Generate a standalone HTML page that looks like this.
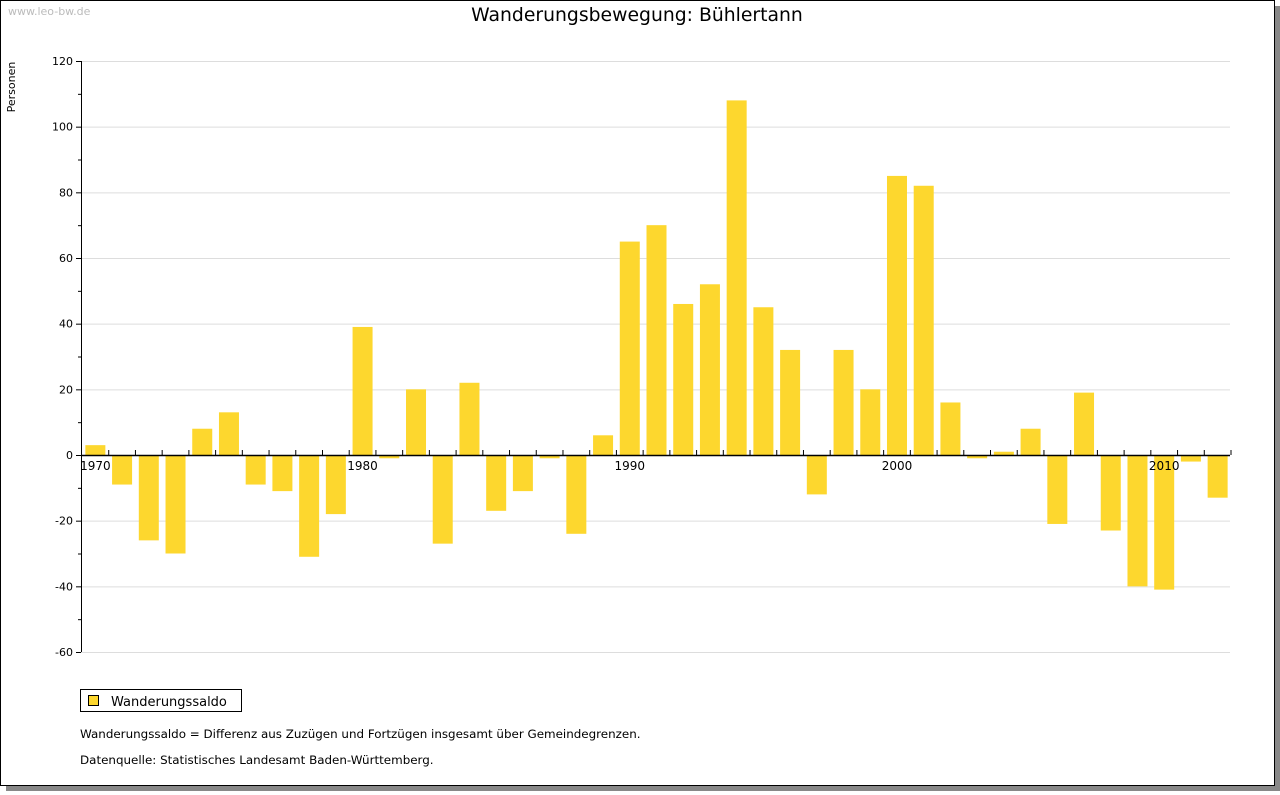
<!DOCTYPE html>
<html><head><meta charset="utf-8"><style>
body{margin:0;background:#fff;width:1280px;height:791px;overflow:hidden;font-family:"DejaVu Sans","Liberation Sans",sans-serif;}
</style></head><body>
<svg id="c" width="1280" height="791" xmlns="http://www.w3.org/2000/svg">
<rect x="6" y="6" width="1274" height="785" fill="#888"/>
<rect x="0.5" y="0.5" width="1274" height="785" fill="#fff" stroke="#000"/>
<text x="8" y="15" font-size="11" fill="#bbb">www.leo-bw.de</text>
<text x="637" y="21" font-size="18.8" text-anchor="middle" fill="#000">Wanderungsbewegung: Bühlertann</text>
<text transform="translate(15,87) rotate(-90)" font-size="11" text-anchor="middle">Personen</text>
<g id="grid"></g><g id="bars"></g><g id="axes"></g>
<rect x="80.5" y="689.5" width="161" height="22" fill="#fff" stroke="#000"/>
<rect x="88.5" y="695.5" width="10" height="10" fill="#fdd72e" stroke="#000"/>
<text x="111" y="706" font-size="13">Wanderungssaldo</text>
<text x="80" y="738" font-size="11.9">Wanderungssaldo = Differenz aus Zuzügen und Fortzügen insgesamt über Gemeindegrenzen.</text>
<text x="80" y="764" font-size="11.9">Datenquelle: Statistisches Landesamt Baden-Württemberg.</text>
</svg>
<script>
const startYear=1970;
const values=[3,-9,-26,-30,8,13,-9,-11,-31,-18,39,-1,20,-27,22,-17,-11,-1,-24,6,65,70,46,52,108,45,32,-12,32,20,85,82,16,-1,1,8,-21,19,-23,-40,-41,-2,-13];
const yTicks=[-60,-40,-20,0,20,40,60,80,100,120];
const xLabels=[1970,1980,1990,2000,2010];
const NS="http://www.w3.org/2000/svg";
const x0=81,x1=1230,step=(x1-x0)/values.length;
const y=v=>455-v*(394/120);
const xc=i=>x0+1+step*(i+0.5);
function mk(t,a,p){const e=document.createElementNS(NS,t);for(const k in a)e.setAttribute(k,a[k]);p.appendChild(e);return e;}
const g=document.getElementById('grid'),b=document.getElementById('bars'),ax=document.getElementById('axes');
yTicks.forEach(v=>{
 if(v!==0){const l=mk('line',{x1:x0,x2:x1,y1:y(v)+.5,y2:y(v)+.5,stroke:'#ddd'},g);
 
 }
 const t=mk('text',{x:73,y:y(v)+4,'font-size':11,'text-anchor':'end'},ax);t.textContent=v;
 
 
 mk('line',{x1:x0-5,x2:x0,y1:y(v)+.5,y2:y(v)+.5,stroke:'#000'},ax);
 if(v<120)mk('line',{x1:x0-3,x2:x0,y1:y(v+10)+.5,y2:y(v+10)+.5,stroke:'#000'},ax);
});
values.forEach((v,i)=>{
 const r=mk('rect',{x:xc(i)-10,y:Math.min(y(v),y(0)),width:20,height:Math.abs(y(v)-y(0)),fill:'#fdd72e'},b);
 
 
});
mk('line',{x1:x0+.5,x2:x0+.5,y1:y(120),y2:y(-60),stroke:'#000'},ax);
mk('line',{x1:x0,x2:x1,y1:455.5,y2:455.5,stroke:'#000','stroke-width':1.5},ax);
for(let i=1;i<=values.length;i++)mk('line',{x1:x0+1+step*i,x2:x0+1+step*i,y1:450,y2:455,stroke:'#000'},ax);
xLabels.forEach(yr=>{const t=mk('text',{x:xc(yr-startYear),y:470,'font-size':12,'text-anchor':'middle'},ax);t.textContent=yr;
 
 });
</script>
</body></html>
